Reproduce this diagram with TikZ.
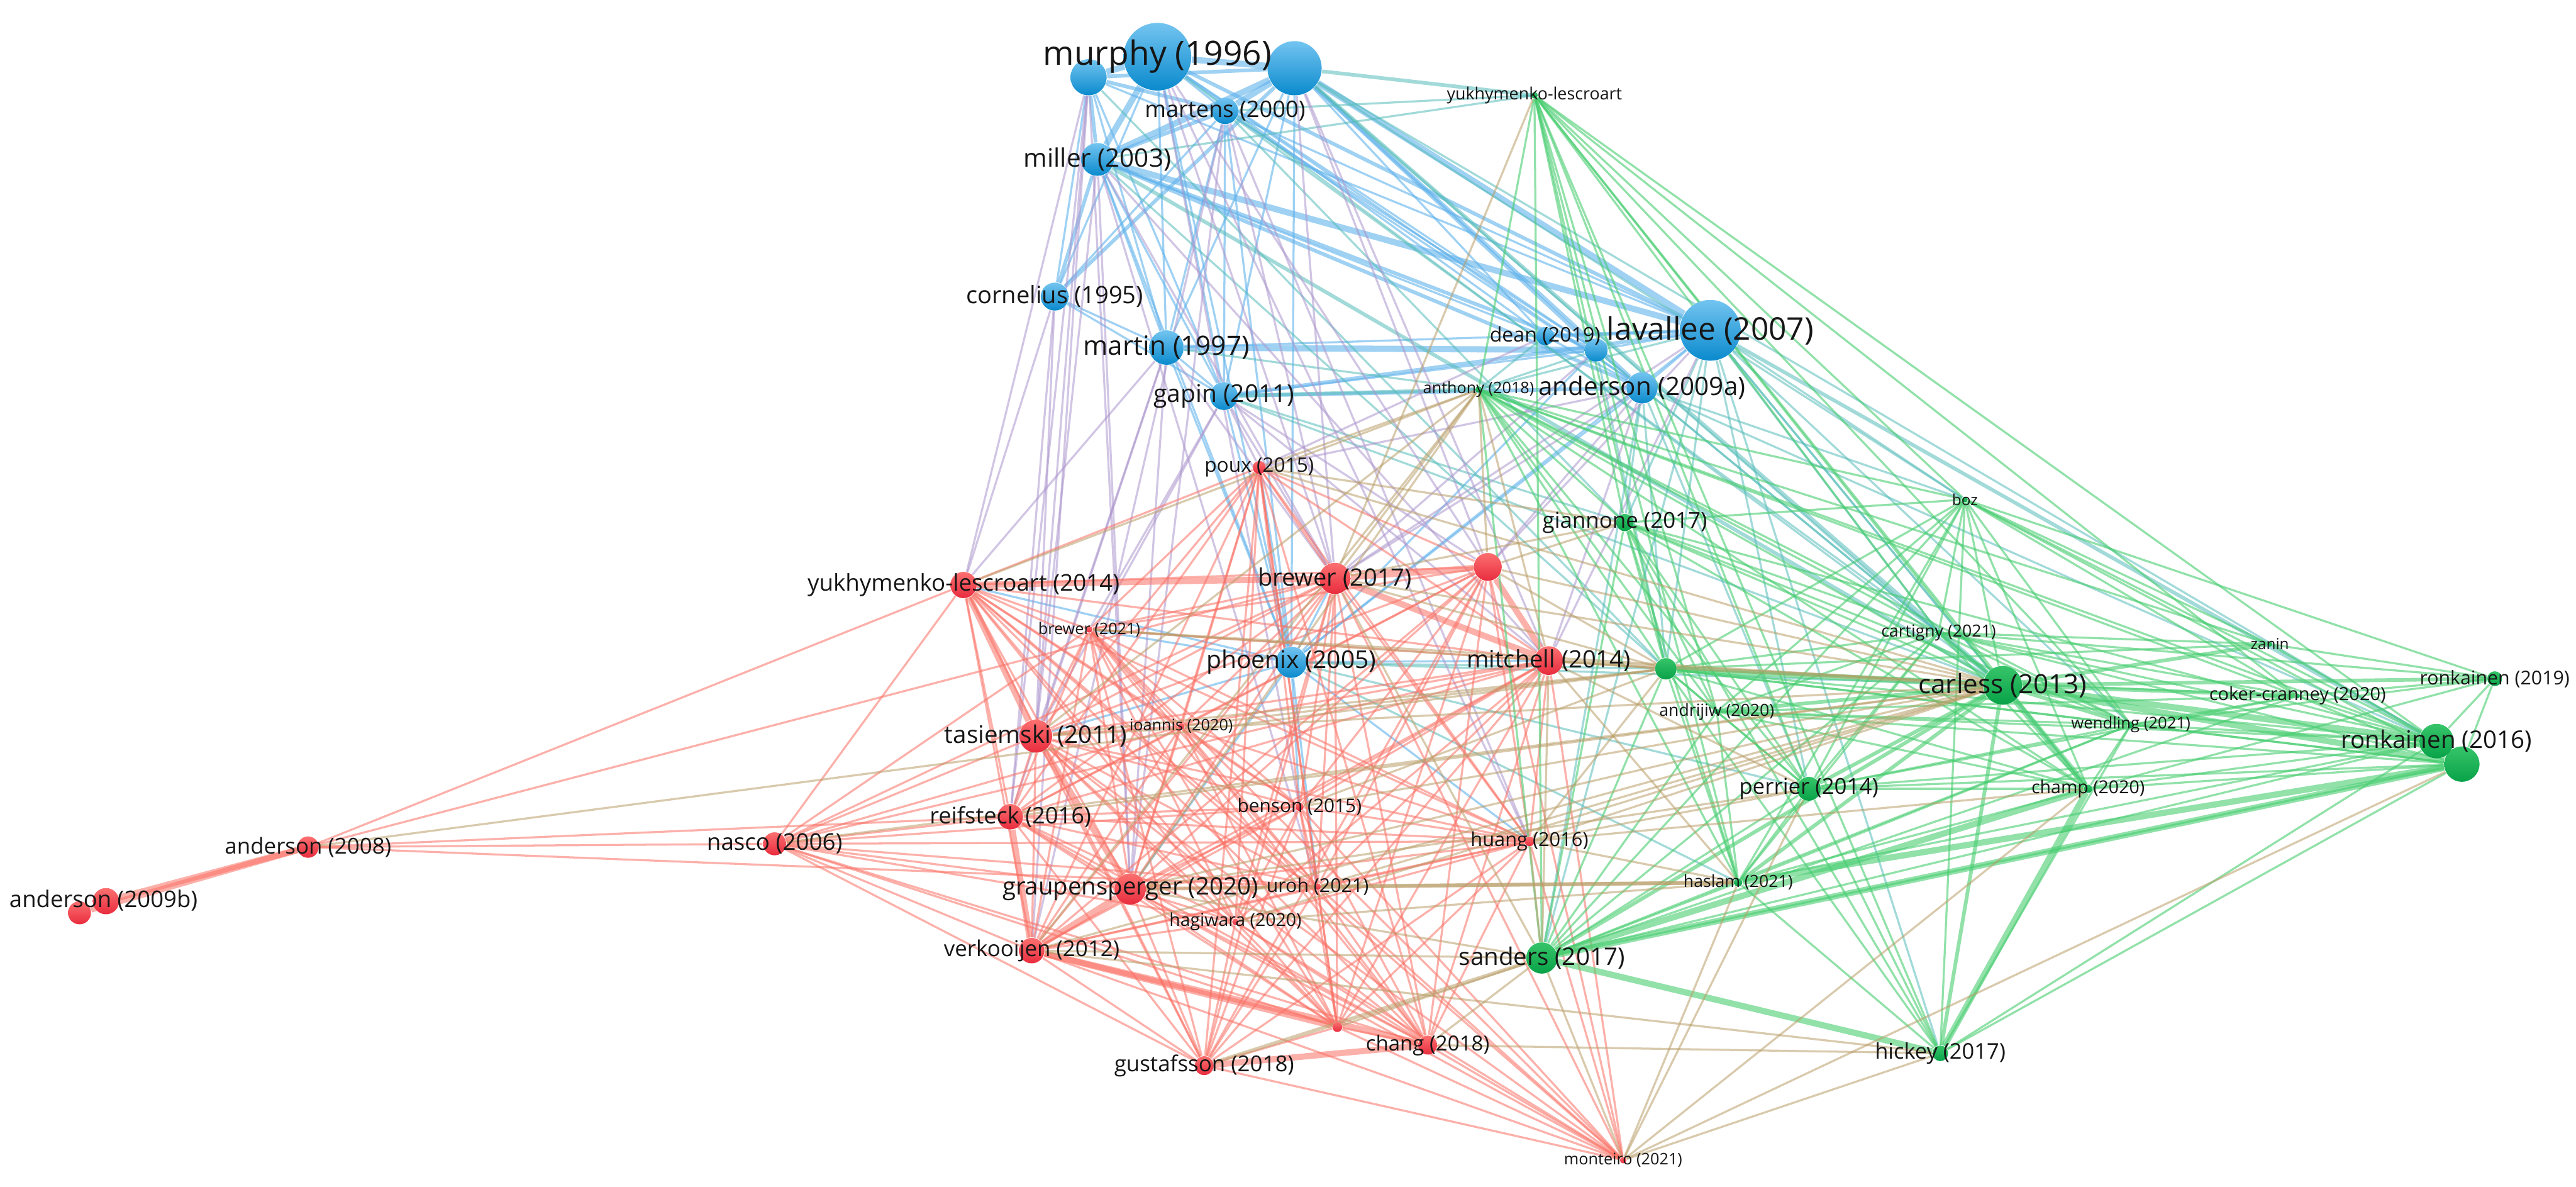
\documentclass[tikz,border=0pt]{standalone}
\usepackage{fontspec}
\setmainfont{Open Sans}
\usetikzlibrary{backgrounds}
\definecolor{bluehi}{RGB}{115,196,240}
\definecolor{bluelo}{RGB}{10,138,205}
\definecolor{redhi}{RGB}{252,112,112}
\definecolor{redlo}{RGB}{232,44,62}
\definecolor{greenhi}{RGB}{55,196,105}
\definecolor{greenlo}{RGB}{8,162,72}
\definecolor{edgeblue}{RGB}{95,178,235}
\definecolor{edgered}{RGB}{250,112,100}
\definecolor{edgegreen}{RGB}{72,205,112}
\definecolor{edgeolive}{RGB}{185,158,105}
\definecolor{edgepurple}{RGB}{172,150,205}
\definecolor{edgeteal}{RGB}{85,188,185}
\definecolor{labtext}{RGB}{22,22,22}
\newcommand{\labsize}[1]{\fontsize{#1}{#1}\selectfont}
\tikzset{
  bdot/.style={circle, inner sep=0pt, top color=bluehi, bottom color=bluelo, minimum size=#1},
  rdot/.style={circle, inner sep=0pt, top color=redhi, bottom color=redlo, minimum size=#1},
  gdot/.style={circle, inner sep=0pt, top color=greenhi, bottom color=greenlo, minimum size=#1},
  lbl/.style={inner sep=0pt, text=labtext, font=\labsize{#1}},
  bb/.style={draw=edgeblue, draw opacity=0.6, line width=0.25mm},
  rr/.style={draw=edgered, draw opacity=0.55, line width=0.25mm},
  gg/.style={draw=edgegreen, draw opacity=0.6, line width=0.25mm},
  rg/.style={draw=edgeolive, draw opacity=0.55, line width=0.25mm},
  rb/.style={draw=edgepurple, draw opacity=0.55, line width=0.25mm},
  bg/.style={draw=edgeteal, draw opacity=0.55, line width=0.25mm},
  mid/.style={line width=0.45mm},
  heavy/.style={line width=0.75mm},
}
\begin{document}
\begin{tikzpicture}[x=0.2mm, y=-0.2mm]
  \useasboundingbox (0,0) rectangle (1568,722);
  % blue cluster
  \node[bdot=4.4mm] (murL) at (662.6,47) {};
  \node[bdot=6.6mm] (murR) at (788,41.5) {};
  \node[bdot=8.24mm] (murphy) at (704.5,34.5) {};
  \node[bdot=3.2mm] (martens) at (745.7,67.5) {};
  \node[bdot=4mm] (miller) at (668,97) {};
  \node[bdot=3.4mm] (cornel) at (642,180.5) {};
  \node[bdot=4.2mm] (martin) at (710,211.5) {};
  \node[bdot=3.4mm] (gapin) at (745,241) {};
  \node[bdot=2.2mm] (dean) at (940.5,204.5) {};
  \node[bdot=2.8mm] (deanR) at (971.5,213) {};
  \node[bdot=7.4mm] (laval) at (1041,201) {};
  \node[bdot=3.8mm] (and09a) at (999.5,236) {};
  \node[bdot=3.8mm] (phoenix) at (786,403) {};
  % green cluster
  \node[gdot=0.8mm] (yukG) at (934,58) {};
  \node[gdot=0.8mm] (anthony) at (900,237) {};
  \node[gdot=2.1mm] (giann) at (989,318) {};
  \node[gdot=0.7mm] (boz) at (1196,304) {};
  \node[gdot=2.6mm] (gX) at (1014,407) {};
  \node[gdot=0.7mm] (andrij) at (1045,433) {};
  \node[gdot=0.8mm] (cartig) at (1180,385) {};
  \node[gdot=0.6mm] (zanin) at (1381.6,392) {};
  \node[gdot=4.7mm] (carless) at (1219,417) {};
  \node[gdot=1.8mm] (ronk19) at (1518.5,413) {};
  \node[gdot=0.6mm] (coker) at (1398.5,423.5) {};
  \node[gdot=0.8mm] (wendl) at (1297,441) {};
  \node[gdot=4.3mm] (ronk16b) at (1498.5,465) {};
  \node[gdot=4.2mm] (ronk16) at (1483,451) {};
  \node[gdot=1mm] (champ) at (1271,480) {};
  \node[gdot=2.9mm] (perrier) at (1101,480) {};
  \node[gdot=1mm] (haslam) at (1058,537) {};
  \node[gdot=3.8mm] (sanders) at (938.5,583) {};
  \node[gdot=1.9mm] (hickey) at (1181,641) {};
  % red cluster
  \node[rdot=1.6mm] (poux) at (766.5,284.5) {};
  \node[rdot=3.4mm] (rX) at (905.6,345) {};
  \node[rdot=3.8mm] (brew17) at (812.5,352) {};
  \node[rdot=3.2mm] (yukR) at (586.5,356) {};
  \node[rdot=0.8mm] (brew21) at (663,383) {};
  \node[rdot=3.5mm] (mitch) at (942.7,402) {};
  \node[rdot=4mm] (tasiem) at (630.5,448) {};
  \node[rdot=0.8mm] (ioann) at (719,442) {};
  \node[rdot=3.1mm] (reif) at (615,497) {};
  \node[rdot=1mm] (benson) at (791,491) {};
  \node[rdot=1.2mm] (huang) at (931,512) {};
  \node[rdot=2.8mm] (nasco) at (471.5,513.5) {};
  \node[rdot=2.6mm] (and08) at (187.5,515.5) {};
  \node[rdot=3.2mm] (and09b) at (64.5,548.4) {};
  \node[rdot=2.8mm] (and09bL) at (48.4,555.5) {};
  \node[rdot=3.8mm] (graup) at (688,541) {};
  \node[rdot=0.8mm] (uroh) at (802,539.5) {};
  \node[rdot=0.8mm] (hagiw) at (752,561) {};
  \node[rdot=3.1mm] (verk) at (628,578.5) {};
  \node[rdot=2.3mm] (chang) at (869,636) {};
  \node[rdot=2.3mm] (gustaf) at (733,648.5) {};
  \node[rdot=1.2mm] (rY) at (814,625) {};
  \node[rdot=0.8mm] (monte) at (988,706) {};

  \begin{scope}[on background layer]
    \foreach \a/\b in {murphy/murR,murR/martens,murR/miller,miller/laval,murR/laval,martin/deanR,murphy/murL,murphy/miller}
      \draw[bb,heavy] (\a) -- (\b);
    \foreach \a/\b in {murL/murR,murL/martens,murL/miller,martens/miller,miller/and09a,miller/deanR,murR/and09a,gapin/laval,gapin/and09a,murphy/laval,cornel/miller,cornel/murR,dean/laval,murR/deanR}
      \draw[bb,mid] (\a) -- (\b);
    \foreach \a/\b in {murphy/martens,murL/cornel,murphy/cornel,martens/cornel,murL/martin,murphy/martin,miller/martin,murR/martin,martens/martin,murL/gapin,murphy/gapin,miller/gapin,martens/gapin,murR/gapin,cornel/gapin,martin/gapin,murR/dean,murphy/dean,miller/dean,murphy/deanR,martens/deanR,gapin/deanR,murL/laval,martens/laval,martin/laval,deanR/laval,and09a/laval,murphy/and09a,martens/and09a,deanR/and09a,dean/and09a,phoenix/gapin,phoenix/miller,phoenix/murR,phoenix/murphy,phoenix/martens,phoenix/laval,phoenix/and09a,phoenix/martin,phoenix/deanR,cornel/martin}
      \draw[bb] (\a) -- (\b);
    \foreach \b in {brew17,mitch,graup,benson,uroh,yukR,brew21,tasiem,poux,huang}
      \draw[bb] (phoenix) -- (\b);
    \foreach \a/\b in {murR/yukG,laval/ronk16,murR/carless,miller/carless,gapin/anthony}
      \draw[bg,mid] (\a) -- (\b);
    \foreach \a/\b in {martens/yukG,miller/yukG,laval/boz,laval/cartig,laval/carless,laval/giann,laval/anthony,laval/gX,laval/wendl,laval/champ,laval/perrier,and09a/carless,and09a/boz,and09a/gX,and09a/perrier,and09a/sanders,and09a/giann,deanR/carless,deanR/gX,dean/anthony,murR/boz,murR/cartig,miller/gX,martens/cartig,martens/giann,murL/gX,gapin/giann,gapin/carless,martin/anthony,phoenix/carless,phoenix/gX,phoenix/haslam,phoenix/perrier,murR/ronk16,and09a/ronk16,deanR/anthony,laval/hickey,laval/sanders,murphy/carless}
      \draw[bg] (\a) -- (\b);
    \foreach \a/\b in {murL/yukR,cornel/reif,cornel/tasiem,cornel/yukR,miller/brew17,miller/mitch,miller/tasiem,miller/graup,murphy/brew17,murphy/rX,murphy/huang,martens/brew17,martens/huang,martens/verk,martens/graup,murR/rX,murR/mitch,murR/brew17,murL/reif,murL/verk,murL/tasiem,gapin/brew17,gapin/poux,gapin/rX,gapin/mitch,gapin/brew21,gapin/tasiem,martin/tasiem,martin/graup,martin/brew17,martin/yukR,martin/reif,and09a/rX,and09a/brew17,and09a/mitch,and09a/poux,laval/mitch,laval/rX,laval/brew17,dean/poux,deanR/brew17,miller/uroh,murphy/benson,murL/graup}
      \draw[rb] (\a) -- (\b);
    % red links
    \foreach \a/\b in {and08/and09b,and08/and09bL,yukR/brew17,brew17/rX,tasiem/graup,verk/chang,gustaf/chang,verk/rY,graup/verk,brew17/mitch,rX/mitch,yukR/tasiem,reif/verk}
      \draw[rr,heavy] (\a) -- (\b);
    \foreach \b in {brew21,mitch,ioann,reif,benson,huang,nasco,and08,graup,uroh,hagiw,verk,chang,gustaf,rY,poux,monte,rX}
      \draw[rr] (yukR) -- (\b);
    \foreach \b in {brew21,tasiem,ioann,reif,benson,huang,nasco,graup,uroh,hagiw,verk,chang,gustaf,rY,poux,monte,and08}
      \draw[rr] (brew17) -- (\b);
    \foreach \b in {poux,brew21,tasiem,ioann,reif,benson,huang,graup,uroh,verk,chang,gustaf,rY,monte}
      \draw[rr] (rX) -- (\b);
    \foreach \b in {poux,brew21,mitch,ioann,reif,benson,huang,nasco,uroh,hagiw,verk,chang,gustaf,rY,monte}
      \draw[rr] (tasiem) -- (\b);
    \foreach \b in {poux,brew21,mitch,ioann,reif,benson,huang,nasco,uroh,hagiw,chang,gustaf,rY,monte}
      \draw[rr] (graup) -- (\b);
    \foreach \b in {poux,brew21,mitch,ioann,benson,huang,nasco,uroh,hagiw,gustaf,monte}
      \draw[rr] (verk) -- (\b);
    \foreach \b in {poux,brew21,mitch,ioann,benson,huang,nasco,uroh,hagiw,chang,gustaf,rY,and08}
      \draw[rr] (reif) -- (\b);
    \foreach \b in {poux,brew21,ioann,benson,huang,nasco,uroh,hagiw,chang,gustaf,rY,monte}
      \draw[rr] (mitch) -- (\b);
    \foreach \b in {brew21,ioann,benson,huang,uroh,hagiw,chang,gustaf,rY}
      \draw[rr] (poux) -- (\b);
    \foreach \b in {ioann,benson,huang,nasco,uroh,hagiw,chang,gustaf,rY,monte}
      \draw[rr] (brew21) -- (\b);
    \foreach \b in {ioann,benson,huang,uroh,hagiw,chang,gustaf,rY,and08}
      \draw[rr] (nasco) -- (\b);
    \foreach \b in {ioann,benson,huang,uroh,hagiw,rY,monte}
      \draw[rr] (chang) -- (\b);
    \foreach \b in {benson,huang,uroh,hagiw,rY,monte}
      \draw[rr] (gustaf) -- (\b);
    \foreach \b in {ioann,benson,huang,uroh,hagiw,monte}
      \draw[rr] (rY) -- (\b);
    \foreach \a/\b in {huang/ioann,huang/benson,huang/uroh,huang/hagiw,huang/monte,benson/uroh,benson/hagiw,benson/monte,uroh/monte,hagiw/monte,ioann/benson,ioann/uroh,and08/uroh}
      \draw[rr] (\a) -- (\b);
    % green links
    \foreach \a/\b in {carless/ronk16,carless/ronk16b,sanders/champ,sanders/hickey,champ/hickey,sanders/ronk16b,haslam/ronk16b,gX/carless,carless/champ}
      \draw[gg,heavy] (\a) -- (\b);
    \foreach \b in {anthony,giann,gX,boz,carless,cartig,andrij,ronk16,champ,wendl,perrier,haslam,hickey,sanders,coker}
      \draw[gg] (yukG) -- (\b);
    \foreach \b in {giann,gX,boz,carless,cartig,andrij,ronk16,champ,wendl,perrier,haslam,sanders,coker,zanin}
      \draw[gg] (anthony) -- (\b);
    \foreach \b in {giann,gX,carless,cartig,andrij,ronk16,ronk16b,ronk19,champ,wendl,perrier,haslam,hickey,sanders,zanin,coker}
      \draw[gg] (boz) -- (\b);
    \foreach \b in {gX,carless,cartig,andrij,ronk16,champ,wendl,perrier,haslam,sanders,hickey}
      \draw[gg] (giann) -- (\b);
    \foreach \b in {cartig,andrij,ronk16,ronk16b,champ,wendl,perrier,haslam,sanders,hickey,coker,zanin}
      \draw[gg] (gX) -- (\b);
    \foreach \b in {cartig,andrij,ronk19,wendl,perrier,haslam,sanders,hickey,coker,zanin}
      \draw[gg,mid] (carless) -- (\b);
    \foreach \b in {cartig,andrij,ronk19,champ,wendl,perrier,haslam,sanders,hickey,coker,zanin,ronk16b}
      \draw[gg] (ronk16) -- (\b);
    \foreach \b in {cartig,andrij,ronk19,champ,wendl,perrier,sanders,hickey,coker}
      \draw[gg] (ronk16b) -- (\b);
    \foreach \b in {cartig,andrij,champ,wendl,haslam,sanders,hickey,coker}
      \draw[gg] (perrier) -- (\b);
    \foreach \a/\b in {sanders/cartig,sanders/andrij,sanders/wendl,sanders/haslam,sanders/coker,champ/cartig,champ/andrij,champ/wendl,champ/haslam,champ/ronk19,haslam/cartig,haslam/andrij,haslam/wendl,haslam/hickey,cartig/andrij,cartig/wendl,cartig/zanin,cartig/ronk19,cartig/coker,andrij/wendl,andrij/coker,wendl/ronk19,wendl/coker,wendl/hickey,ronk19/coker,ronk19/zanin}
      \draw[gg] (\a) -- (\b);
    % red to green
    \foreach \a/\b in {gustaf/sanders,graup/haslam,uroh/haslam,mitch/carless}
      \draw[rg,mid] (\a) -- (\b);
    \foreach \a/\b in {brew17/carless,brew17/gX,brew17/giann,brew17/sanders,mitch/gX,mitch/perrier,mitch/haslam,mitch/sanders,rX/carless,rX/giann,rX/gX,rX/anthony,tasiem/gX,tasiem/carless,graup/carless,graup/sanders,graup/perrier,verk/sanders,verk/hickey,verk/carless,chang/sanders,chang/hickey,rY/sanders,monte/hickey,monte/sanders,monte/perrier,monte/champ,monte/haslam,monte/ronk16b,huang/carless,huang/perrier,huang/haslam,huang/sanders,huang/gX,huang/champ,uroh/carless,benson/carless,benson/gX,nasco/carless,and08/gX,poux/anthony,poux/carless,poux/giann,hagiw/haslam,hagiw/carless,ioann/gX,reif/carless,brew21/gX,brew21/carless,anthony/brew17,anthony/tasiem,anthony/graup,anthony/mitch,anthony/verk,yukR/anthony,yukG/brew17}
      \draw[rg] (\a) -- (\b);
  \end{scope}

  % labels
  \node[lbl=11.6] (murphy-lab) at (murphy) {murphy (1996)};
  \node[lbl=7.9] (martens-lab) at (martens) {martens (2000)};
  \node[lbl=8.8] (miller-lab) at (miller) {miller (2003)};
  \node[lbl=8.3] (cornel-lab) at (cornel) {cornelius (1995)};
  \node[lbl=9.2] (martin-lab) at (martin) {martin (1997)};
  \node[lbl=8.5] (gapin-lab) at (gapin) {gapin (2011)};
  \node[lbl=7] (dean-lab) at (dean) {dean (2019)};
  \node[lbl=10.8] (laval-lab) at (laval) {lavallee (2007)};
  \node[lbl=8.8] (and09a-lab) at (and09a) {anderson (2009a)};
  \node[lbl=8.5] (phoenix-lab) at (phoenix) {phoenix (2005)};
  \node[lbl=5.85] (yukG-lab) at (yukG) {yukhymenko-lescroart};
  \node[lbl=5.5] (anthony-lab) at (anthony) {anthony (2018)};
  \node[lbl=7.6] (giann-lab) at (giann) {giannone (2017)};
  \node[lbl=5.3] (boz-lab) at (boz) {boz};
  \node[lbl=5.8] (andrij-lab) at (andrij) {andrijiw (2020)};
  \node[lbl=5.8] (cartig-lab) at (cartig) {cartigny (2021)};
  \node[lbl=5.3] (zanin-lab) at (zanin) {zanin};
  \node[lbl=9.2] (carless-lab) at (carless) {carless (2013)};
  \node[lbl=6.6] (ronk19-lab) at (ronk19) {ronkainen (2019)};
  \node[lbl=6.3] (coker-lab) at (coker) {coker-cranney (2020)};
  \node[lbl=5.6] (wendl-lab) at (wendl) {wendling (2021)};
  \node[lbl=8.4] (ronk16-lab) at (ronk16) {ronkainen (2016)};
  \node[lbl=6.2] (champ-lab) at (champ) {champ (2020)};
  \node[lbl=7.6] (perrier-lab) at (perrier) {perrier (2014)};
  \node[lbl=5.8] (haslam-lab) at (haslam) {haslam (2021)};
  \node[lbl=8.4] (sanders-lab) at (sanders) {sanders (2017)};
  \node[lbl=7.5] (hickey-lab) at (hickey) {hickey (2017)};
  \node[lbl=6.9] (poux-lab) at (poux) {poux (2015)};
  \node[lbl=8.3] (brew17-lab) at (brew17) {brewer (2017)};
  \node[lbl=8] (yukR-lab) at (yukR) {yukhymenko-lescroart (2014)};
  \node[lbl=5.5] (brew21-lab) at (brew21) {brewer (2021)};
  \node[lbl=8.3] (mitch-lab) at (mitch) {mitchell (2014)};
  \node[lbl=8.4] (tasiem-lab) at (tasiem) {tasiemski (2011)};
  \node[lbl=5.5] (ioann-lab) at (ioann) {ioannis (2020)};
  \node[lbl=7.9] (reif-lab) at (reif) {reifsteck (2016)};
  \node[lbl=6.5] (benson-lab) at (benson) {benson (2015)};
  \node[lbl=6.7] (huang-lab) at (huang) {huang (2016)};
  \node[lbl=8] (nasco-lab) at (nasco) {nasco (2006)};
  \node[lbl=7.6] (and08-lab) at (and08) {anderson (2008)};
  \node[lbl=7.95] (and09b-lab) at (63,548) {anderson (2009b)};
  \node[lbl=8.35] (graup-lab) at (graup) {graupensperger (2020)};
  \node[lbl=6.6] (uroh-lab) at (uroh) {uroh (2021)};
  \node[lbl=6.2] (hagiw-lab) at (hagiw) {hagiwara (2020)};
  \node[lbl=7.6] (verk-lab) at (verk) {verkooijen (2012)};
  \node[lbl=7.2] (chang-lab) at (chang) {chang (2018)};
  \node[lbl=7.6] (gustaf-lab) at (gustaf) {gustafsson (2018)};
  \node[lbl=5.5] (monte-lab) at (monte) {monteiro (2021)};
\end{tikzpicture}
\end{document}
